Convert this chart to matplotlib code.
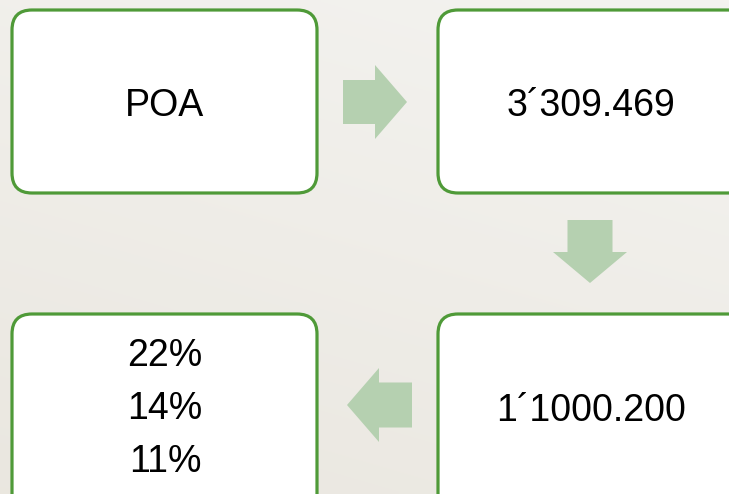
import numpy as np
import matplotlib
matplotlib.use("Agg")
import matplotlib.pyplot as plt
from matplotlib.patches import FancyBboxPatch, Polygon

# Content
box_labels = ["POA", "3\u00b4309.469", "1\u00b41000.200", "22%\n14%\n11%"]
arrow_dirs = ["right", "down", "left"]

W, H = 729, 494
fig = plt.figure(figsize=(W / 100, H / 100), dpi=100)
ax = fig.add_axes([0, 0, 1, 1])
ax.set_xlim(0, W)
ax.set_ylim(H, 0)
ax.axis("off")

# background gradient (lighter top-right, slightly darker bottom-left)
yy, xx = np.mgrid[0:1:100j, 0:1:150j]
t = (yy * 0.7 + (1 - xx) * 0.3)
c_top = np.array([0.957, 0.953, 0.941])
c_bot = np.array([0.918, 0.906, 0.878])
img = c_top[None, None, :] * (1 - t[..., None]) + c_bot[None, None, :] * t[..., None]
ax.imshow(img, extent=[0, W, H, 0], aspect="auto", zorder=0, interpolation="bilinear")

green = "#4f9a38"
arrow_col = "#b5d0b0"

# boxes: (x0, y0, w, h)
boxes = [(12, 10, 305, 183), (438, 10, 310, 183), (438, 314, 310, 200), (12, 314, 305, 200)]
text_pos = [(165, 102), (591, 102), (591, 407), (165, 405)]
line_gap = 53

for (x0, y0, w, h), lab, (tx, ty) in zip(boxes, box_labels, text_pos):
    p = FancyBboxPatch((x0, y0), w, h, boxstyle="round,pad=0,rounding_size=20",
                       facecolor="white", edgecolor=green, linewidth=2.3, zorder=2)
    ax.add_patch(p)
    lines = lab.split("\n")
    n = len(lines)
    for i, ln in enumerate(lines):
        yy_ = ty + (i - (n - 1) / 2) * line_gap
        ax.text(tx, yy_, ln, ha="center", va="center_baseline", fontsize=27,
                family="Liberation Sans", color="black", zorder=3)

def arrow(cx, cy, direction, body_len=32, body_w=44, head_len=32, head_w=74):
    L = body_len + head_len
    pts = np.array([
        [-L / 2, -body_w / 2],
        [-L / 2 + body_len, -body_w / 2],
        [-L / 2 + body_len, -head_w / 2],
        [L / 2, 0],
        [-L / 2 + body_len, head_w / 2],
        [-L / 2 + body_len, body_w / 2],
        [-L / 2, body_w / 2],
    ])
    ang = {"right": 0, "down": np.pi / 2, "left": np.pi}[direction]
    R = np.array([[np.cos(ang), -np.sin(ang)], [np.sin(ang), np.cos(ang)]])
    pts = pts @ R.T + np.array([cx, cy])
    ax.add_patch(Polygon(pts, closed=True, facecolor=arrow_col, edgecolor="none", zorder=2))

arrow_centers = [(375, 102), (590, 251.5), (379.5, 405)]
sizes = [dict(body_len=32, body_w=44, head_len=32, head_w=74),
         dict(body_len=32, body_w=45, head_len=31, head_w=74),
         dict(body_len=33, body_w=45, head_len=32, head_w=74)]
for (cx, cy), d, s in zip(arrow_centers, arrow_dirs, sizes):
    arrow(cx, cy, d, **s)

fig.savefig("out.png", dpi=100)
